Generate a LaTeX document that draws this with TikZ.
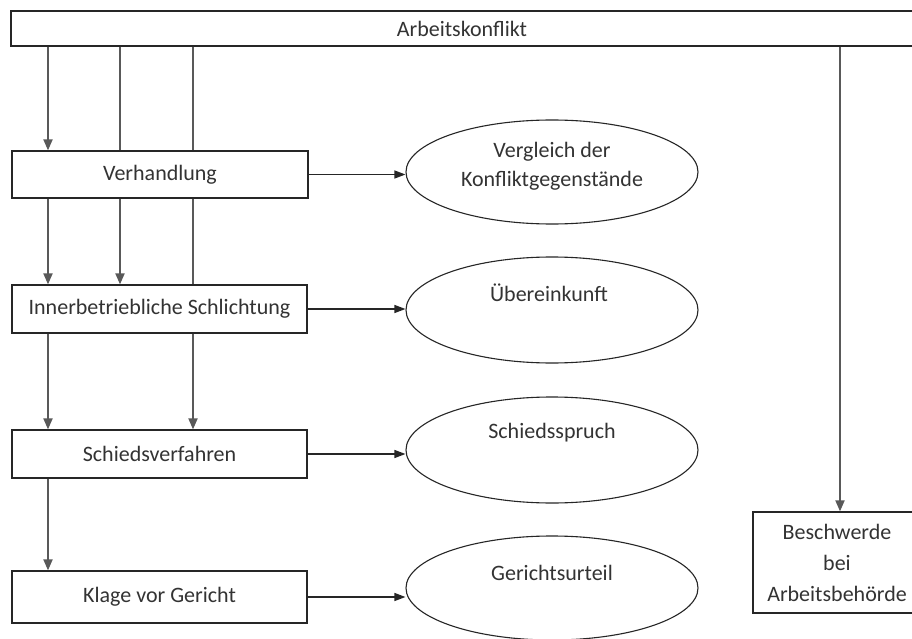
\documentclass[tikz,border=0pt]{standalone}
\usepackage{fontspec}
\setmainfont{Carlito}
\usetikzlibrary{arrows.meta,shapes.geometric}
\begin{document}
\begin{tikzpicture}[x=1pt,y=-1pt,
  box/.style={draw=black!85, line width=1.2pt, fill=white, inner sep=0pt, font=\fontsize{22}{31}\selectfont, text=black!80, align=center},
  ell/.style={draw=black!85, line width=1.1pt, ellipse, minimum width=292pt, minimum height=105pt, inner sep=0pt},
  txt/.style={text=black!80, font=\fontsize{22}{27}\selectfont, inner sep=0pt},
  conn/.style={draw=black!65, line width=1.8pt},
  arr/.style={conn, -{Triangle[length=11pt,width=9pt]}},
  harr/.style={draw=black!85, line width=1.2pt, -{Triangle[length=11pt,width=8pt]}}]
\useasboundingbox[fill=white] (0,0) rectangle (912,639);
% boxes
\node[box, minimum width=902pt, minimum height=35pt] (top) at (462,28.5) {Arbeitskonflikt};
\node[box, minimum width=296pt, minimum height=47pt] (verh) at (160,174.5) {Verhandlung};
\node[box, minimum width=295pt, minimum height=48pt] (inner) at (159.5,309) {Innerbetriebliche Schlichtung};
\node[box, minimum width=295pt, minimum height=48pt] (schied) at (159.5,454) {Schiedsverfahren};
\node[box, minimum width=295pt, minimum height=52pt] (klage) at (159.5,597) {Klage vor Gericht};
\node[box, minimum width=168pt, minimum height=101pt] (besch) at (837,562.5) {Beschwerde\\bei\\Arbeitsbehörde};
% ellipses
\node[ell, minimum height=104pt] (e1) at (552,172) {};
\node[ell, minimum height=106pt] (e2) at (552,310) {};
\node[ell, minimum height=106pt] (e3) at (552,450) {};
\node[ell, minimum height=104pt] (e4) at (552,588) {};
\node[txt] (t1a) at (552,152) {Vergleich der};
\node[txt] (t1b) at (552,181) {Konfliktgegenstände};
\node[txt] (t2) at (549,293) {Übereinkunft};
\node[txt] (t3) at (552,433) {Schiedsspruch};
\node[txt] (t4) at (552,573) {Gerichtsurteil};
% vertical guide coordinates
\coordinate (ca) at (48,0);
\coordinate (cb) at (120,0);
\coordinate (cc) at (193,0);
\coordinate (cd) at (840,0);
% vertical connectors
\draw[arr] (ca |- top.south) -- (ca |- verh.north);
\draw[conn] (cb |- top.south) -- (cb |- verh.north);
\draw[conn] (cc |- top.south) -- (cc |- verh.north);
\draw[arr] (ca |- verh.south) -- (ca |- inner.north);
\draw[arr] (cb |- verh.south) -- (cb |- inner.north);
\draw[conn] (cc |- verh.south) -- (cc |- inner.north);
\draw[arr] (ca |- inner.south) -- (ca |- schied.north);
\draw[arr] (cc |- inner.south) -- (cc |- schied.north);
\draw[arr] (ca |- schied.south) -- (ca |- klage.north);
\draw[arr] (cd |- top.south) -- (cd |- besch.north);
% horizontal connectors
\draw[harr] (verh.east) -- (verh.east -| e1.west);
\draw[harr] (inner.east) -- (inner.east -| e2.west);
\draw[harr] (schied.east) -- (schied.east -| e3.west);
\draw[harr] (klage.east) -- (klage.east -| e4.west);
\end{tikzpicture}
\end{document}
